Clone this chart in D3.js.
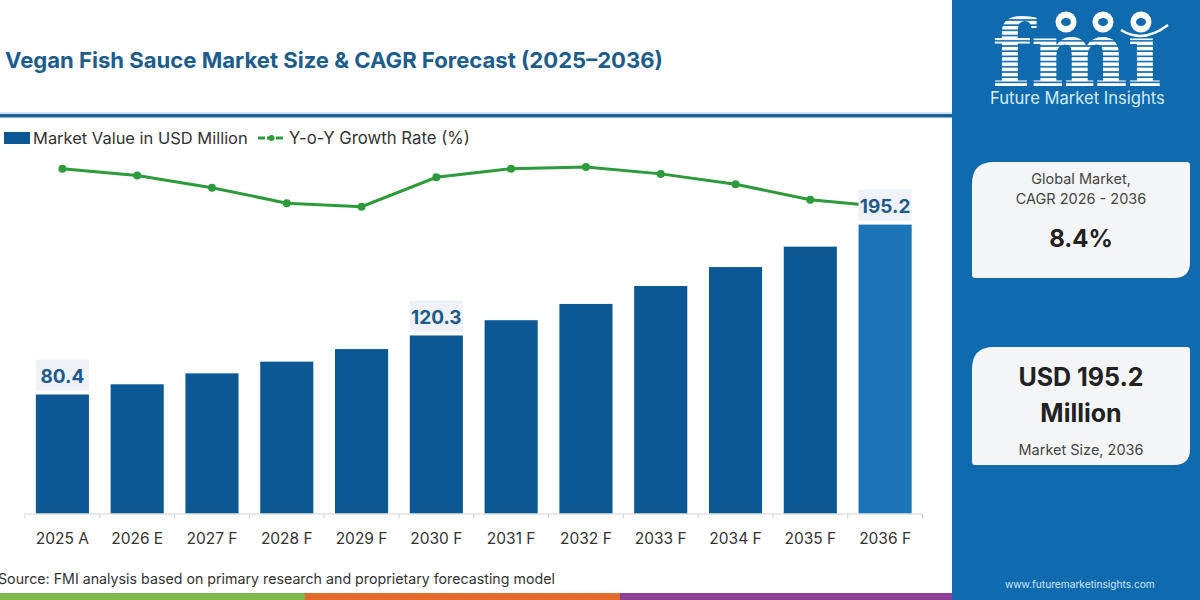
<!DOCTYPE html>
<html>
<head>
<meta charset="utf-8">
<script src="https://cdn.jsdelivr.net/npm/d3@7"></script>
<style>
  body { margin: 0; background: #fff; }
  svg text { font-family: Inter, "Open Sans", sans-serif; }
</style>
</head>
<body>
<div id="chart"></div>
<script>
// Data
// =================================
var years = ["2025 A", "2026 E", "2027 F", "2028 F", "2029 F", "2030 F",
  "2031 F", "2032 F", "2033 F", "2034 F", "2035 F", "2036 F"];
var marketValue = [80.4, 87.3, 94.7, 102.6, 111.1, 120.3, 130.6, 141.6, 153.7, 166.5, 180.3, 195.2];
var growthRate = [9.2, 9.0, 8.65, 8.2, 8.1, 8.95, 9.2, 9.25, 9.05, 8.75, 8.3, 8.1];
var labeledYears = ["2025 A", "2030 F", "2036 F"];
var legendLabels = ["Market Value in USD Million", "Y-o-Y Growth Rate (%)"];
var stripeColors = ["#7cb84a", "#e4692d", "#8e3f97"];

var svgWidth = 1200;
var svgHeight = 600;

var svg = d3.select("#chart")
  .append("svg")
  .attr("width", svgWidth)
  .attr("height", svgHeight);

// fit a text to a given width by scaling its font size
function fit(sel, w) {
  var len = sel.node().getComputedTextLength();
  var fs = parseFloat(sel.attr("font-size"));
  sel.attr("font-size", fs * w / len);
  return sel;
}

// Scales
// =================================
var xBand = d3.scaleBand()
  .domain(years)
  .range([25, 922.5])
  .paddingInner(0.29)
  .paddingOuter(0.145);

var baseY = 513.5;
var yLinear = d3.scaleLinear()
  .domain([0, 220])
  .range([baseY, baseY - 220 * 1.48]);

var yRate = d3.scaleLinear()
  .domain([7, 9.5])
  .range([244.6, 158.35]);

// Title + rule
// =================================
var title = svg.append("text")
  .attr("x", 5)
  .attr("y", 68)
  .attr("font-size", 22)
  .attr("font-weight", 700)
  .attr("fill", "#1c5d8e")
  .text("Vegan Fish Sauce Market Size & CAGR Forecast (2025\u20132036)");
fit(title, 658);

svg.append("rect")
  .attr("x", 0).attr("y", 112)
  .attr("width", 952).attr("height", 2)
  .attr("fill", "#cfe6f5");
svg.append("rect")
  .attr("x", 0).attr("y", 114)
  .attr("width", 952).attr("height", 3.5)
  .attr("fill", "#1d6096");

// Legend
// =================================
var legend = svg.append("g");
legend.append("rect")
  .attr("x", 4).attr("y", 132)
  .attr("width", 26).attr("height", 12)
  .attr("fill", "#0b5894");
fit(legend.append("text")
  .attr("x", 33).attr("y", 143.5)
  .attr("font-size", 15)
  .attr("fill", "#333")
  .text(legendLabels[0]), 215);
legend.append("line")
  .attr("x1", 258).attr("x2", 285)
  .attr("y1", 138).attr("y2", 138)
  .attr("stroke", "#2d9a3c").attr("stroke-width", 3)
  .attr("stroke-dasharray", "7,2");
legend.append("circle")
  .attr("cx", 271.5).attr("cy", 138).attr("r", 3)
  .attr("fill", "#2d9a3c");
fit(legend.append("text")
  .attr("x", 289).attr("y", 143.5)
  .attr("font-size", 15)
  .attr("fill", "#333")
  .text(legendLabels[1]), 181);

// Bars
// =================================
var chartGroup = svg.append("g");

chartGroup.selectAll(".bar")
  .data(years)
  .enter()
  .append("rect")
  .attr("class", "bar")
  .attr("x", d => xBand(d))
  .attr("y", (d, i) => yLinear(marketValue[i]))
  .attr("width", xBand.bandwidth())
  .attr("height", (d, i) => baseY - yLinear(marketValue[i]))
  .attr("fill", (d, i) => i === years.length - 1 ? "#1b74b5" : "#0b5894");

// X axis (labels from d3, boundary ticks drawn from the band step)
var xAxis = chartGroup.append("g")
  .attr("transform", `translate(0, ${baseY + 0.5})`)
  .call(d3.axisBottom(xBand).tickSize(0).tickPadding(19));
xAxis.select(".domain").remove();
xAxis.selectAll("text")
  .attr("font-size", 15.5)
  .attr("fill", "#333")
  .style("font-family", "Inter, sans-serif");

var r0 = xBand.range()[0];
var r1 = xBand.range()[1];
chartGroup.append("line")
  .attr("x1", r0).attr("x2", r1)
  .attr("y1", baseY + 0.5).attr("y2", baseY + 0.5)
  .attr("stroke", "#d4d4d4");
chartGroup.selectAll(".btick")
  .data(d3.range(years.length + 1))
  .enter()
  .append("line")
  .attr("class", "btick")
  .attr("x1", i => r0 + i * xBand.step())
  .attr("x2", i => r0 + i * xBand.step())
  .attr("y1", baseY + 0.5).attr("y2", baseY + 5)
  .attr("stroke", "#d4d4d4");

// Growth line
// =================================
var rateLine = d3.line()
  .x((d, i) => xBand(years[i]) + xBand.bandwidth() / 2)
  .y(d => yRate(d));

chartGroup.append("path")
  .datum(growthRate)
  .attr("d", rateLine)
  .attr("fill", "none")
  .attr("stroke", "#2d9a3c")
  .attr("stroke-width", 3);

chartGroup.selectAll(".dot")
  .data(growthRate)
  .enter()
  .append("circle")
  .attr("class", "dot")
  .attr("cx", (d, i) => xBand(years[i]) + xBand.bandwidth() / 2)
  .attr("cy", d => yRate(d))
  .attr("r", 4)
  .attr("fill", "#2d9a3c");

// Value labels on chosen bars
// =================================
var labelGroup = chartGroup.selectAll(".vlabel")
  .data(labeledYears)
  .enter()
  .append("g")
  .attr("class", "vlabel");

labelGroup.append("rect")
  .attr("x", d => xBand(d))
  .attr("y", d => yLinear(marketValue[years.indexOf(d)]) - 35)
  .attr("width", xBand.bandwidth())
  .attr("height", 31)
  .attr("fill", "#eef1f5");

labelGroup.append("text")
  .attr("x", d => xBand(d) + xBand.bandwidth() / 2)
  .attr("y", d => yLinear(marketValue[years.indexOf(d)]) - 18.5)
  .attr("dy", "0.35em")
  .attr("text-anchor", "middle")
  .attr("font-size", 19)
  .attr("font-weight", 700)
  .attr("fill", "#1d5a8a")
  .text(d => marketValue[years.indexOf(d)].toFixed(1));

// Source
fit(svg.append("text")
  .attr("x", -2).attr("y", 584)
  .attr("font-size", 13)
  .attr("fill", "#333")
  .text("Source: FMI analysis based on primary research and proprietary forecasting model"), 557);

// Bottom stripe
var stripeX = [0, 305, 620, 952];
svg.selectAll(".stripe")
  .data(stripeColors)
  .enter()
  .append("rect")
  .attr("x", (d, i) => stripeX[i])
  .attr("y", 593)
  .attr("width", (d, i) => stripeX[i + 1] - stripeX[i])
  .attr("height", 7)
  .attr("fill", d => d);

// Right panel
// =================================
svg.append("rect")
  .attr("x", 952).attr("y", 0)
  .attr("width", 248).attr("height", 600)
  .attr("fill", "#0f6aae");

var defs = svg.append("defs");
var pat = defs.append("pattern")
  .attr("id", "stripes")
  .attr("patternUnits", "userSpaceOnUse")
  .attr("width", 10).attr("height", 5.2);
pat.append("rect")
  .attr("width", 10).attr("height", 3.6)
  .attr("fill", "#ffffff");

// logo: striped "fmı" (dotless i, the dot is the globe circle)
svg.append("text")
  .attr("x", 992).attr("y", 86)
  .attr("font-size", 92)
  .attr("font-weight", 700)
  .attr("letter-spacing", -1)
  .attr("fill", "url(#stripes)")
  .style("font-family", "'DejaVu Serif', serif")
  .text("fm\u0131");

[1066, 1103, 1141].forEach(function (cx) {
  svg.append("circle")
    .attr("cx", cx).attr("cy", 22).attr("r", 10.5)
    .attr("fill", "#ffffff");
  svg.append("ellipse")
    .attr("cx", cx).attr("cy", 22).attr("rx", 5).attr("ry", 4)
    .attr("fill", "#0f6aae");
});
svg.append("path")
  .attr("d", "M1121,30 Q1143,44 1168,25")
  .attr("fill", "none")
  .attr("stroke", "#ffffff")
  .attr("stroke-width", 2.5);

fit(svg.append("text")
  .attr("x", 990).attr("y", 104)
  .attr("font-size", 15)
  .attr("fill", "#d6ebfb")
  .text("Future Market Insights"), 175);

// KPI boxes
function boxPath(x, y, w, h, rtl, rbr) {
  return `M${x + rtl},${y} H${x + w - 3} Q${x + w},${y} ${x + w},${y + 3}` +
    ` V${y + h - rbr} Q${x + w},${y + h} ${x + w - rbr},${y + h}` +
    ` H${x + 3} Q${x},${y + h} ${x},${y + h - 3}` +
    ` V${y + rtl} Q${x},${y} ${x + rtl},${y} Z`;
}

svg.append("path")
  .attr("d", boxPath(972, 162, 218, 116, 22, 16))
  .attr("fill", "#f4f5f7");
svg.append("path")
  .attr("d", boxPath(972, 347, 218, 118, 22, 16))
  .attr("fill", "#f4f5f7");

var kpi = [
  { t: "Global Market,", y: 179, s: 14.5, w: 400 },
  { t: "CAGR 2026 - 2036", y: 199, s: 14.5, w: 400 },
  { t: "8.4%", y: 239, s: 24, w: 700 },
  { t: "USD 195.2", y: 377, s: 25, w: 700 },
  { t: "Million", y: 413, s: 25, w: 700 },
  { t: "Market Size, 2036", y: 450, s: 14.5, w: 400 }
];
svg.selectAll(".kpi")
  .data(kpi)
  .enter()
  .append("text")
  .attr("class", "kpi")
  .attr("x", 1081)
  .attr("y", d => d.y)
  .attr("dy", "0.35em")
  .attr("text-anchor", "middle")
  .attr("font-size", d => d.s)
  .attr("font-weight", d => d.w)
  .attr("fill", d => d.w > 500 ? "#222" : "#444")
  .text(d => d.t);

fit(svg.append("text")
  .attr("x", 1005).attr("y", 588)
  .attr("font-size", 10)
  .attr("fill", "#cfe6fa")
  .text("www.futuremarketinsights.com"), 150);
</script>
</body>
</html>
